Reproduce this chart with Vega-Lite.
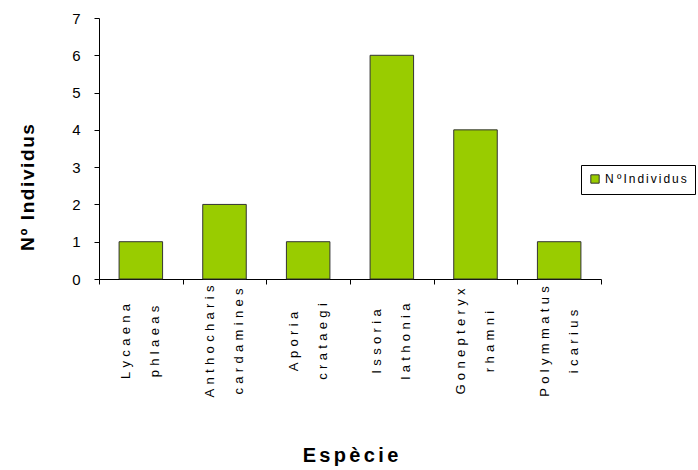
{
  "$schema": "https://vega.github.io/schema/vega-lite/v6.json",
  "autosize": {"type": "none"},
  "padding": {"left": 99, "top": 18, "right": 97, "bottom": 191},
  "width": 502,
  "height": 261,
  "background": "white",
  "config": {
    "view": {"stroke": null},
    "font": "Liberation Sans, Arial, sans-serif"
  },
  "data": {
    "values": [
      {"especie": "Lycaena phlaeas", "n": 1},
      {"especie": "Anthocharis cardamines", "n": 2},
      {"especie": "Aporia crataegi", "n": 1},
      {"especie": "Issoria lathonia", "n": 6},
      {"especie": "Gonepteryx rhamni", "n": 4},
      {"especie": "Polymmatus icarius", "n": 1}
    ]
  },
  "mark": {"type": "bar", "width": {"band": 0.52}, "stroke": "#333333", "strokeWidth": 1},
  "encoding": {
    "x": {
      "field": "especie",
      "type": "nominal",
      "sort": null,
      "scale": {"paddingInner": 0, "paddingOuter": 0},
      "axis": {
        "title": "E\u2006s\u2006p\u2006è\u2006c\u2006i\u2006e",
        "titleFontSize": 20,
        "titleFontWeight": "bold",
        "titleColor": "black",
        "titleY": 182,
        "titleBaseline": "alphabetic",
        "tickBand": "extent",
        "domainColor": "black",
        "tickColor": "black",
        "tickSize": 5,
        "labelAngle": 270,
        "labelAlign": "center",
        "labelBaseline": "middle",
        "labelPadding": 57,
        "labelOffset": -15,
        "labelLineHeight": 29,
        "labelFontSize": 13,
        "labelLimit": 400,
        "labelColor": "black",
        "labelExpr": "split(replace(datum.label, /(\\S)(?=\\S)/g, '$1\u2004'), ' ')"
      }
    },
    "y": {
      "field": "n",
      "type": "quantitative",
      "scale": {"domain": [0, 7], "nice": false},
      "axis": {
        "values": [0, 1, 2, 3, 4, 5, 6, 7],
        "grid": false,
        "title": "N\u200aº\u200a \u200aI\u200an\u200ad\u200ai\u200av\u200ai\u200ad\u200au\u200as",
        "titleFontSize": 19,
        "titleFontWeight": "bold",
        "titleColor": "black",
        "titleX": -66,
        "titleY": 169,
        "titleAngle": 270,
        "titleBaseline": "alphabetic",
        "titleAlign": "center",
        "domainColor": "black",
        "tickColor": "black",
        "tickSize": 5,
        "labelPadding": 14,
        "labelFontSize": 15,
        "labelColor": "black"
      }
    },
    "color": {
      "datum": "N ºIndividus",
      "type": "nominal",
      "scale": {"range": ["#99CC00"]},
      "legend": {
        "title": null,
        "orient": "none",
        "legendX": 482,
        "legendY": 147,
        "strokeColor": "black",
        "fillColor": "white",
        "padding": 8,
        "symbolType": "square",
        "symbolSize": 70,
        "symbolStrokeColor": "#333333",
        "symbolStrokeWidth": 1,
        "symbolOpacity": 1,
        "labelFontSize": 12,
        "labelColor": "black",
        "labelExpr": "replace(datum.label, /(\\S)(?=\\S)/g, '$1\u2006')",
        "labelLimit": 200
      }
    }
  }
}
